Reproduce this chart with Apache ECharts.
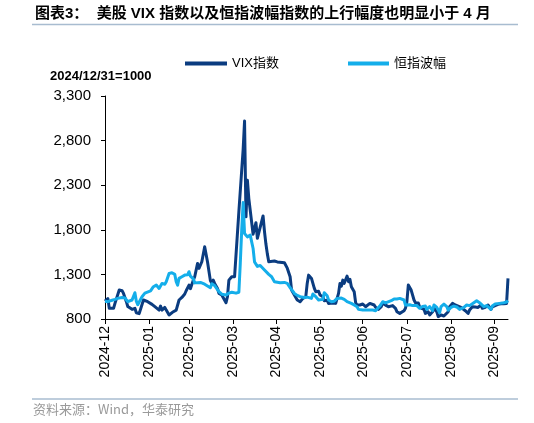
<!DOCTYPE html>
<html><head><meta charset="utf-8">
<script src="https://cdn.jsdelivr.net/npm/echarts@6/dist/echarts.min.js"></script>
<style>html,body{margin:0;padding:0;background:#fff}#c{width:534px;height:423px}</style>
</head><body><div id="c"></div>
<script>
// x values are days after 2024-12-31 (index base = 1000)
const seriesNames = ['VIX指数', '恒指波幅'];
const vixDays = [0,2,3,6,7,10,12,13,15,16,19,20,21,22,24,25,27,28,30,33,35,36,38,39,40,42,43,45,46,48,50,52,54,56,57,59,60,62,63,65,66,68,70,72,74,75,76,77,79,80,82,85,86,87,89,91,92,93,94,97,98,99,100,101,104,105,106,107,111,112,113,114,115,116,119,121,126,128,130,131,133,135,137,139,141,142,143,145,146,147,148,150,151,153,154,156,157,160,162,164,165,166,167,168,170,171,172,173,175,176,177,179,181,183,184,186,187,189,190,192,194,195,197,199,200,202,204,205,207,208,210,211,212,213,215,217,218,220,221,222,224,225,227,228,230,231,233,234,236,238,239,241,242,244,245,246,248,250,251,253,255,256,258,260,262,264,265,267,269,271,272,274,276,278,280,282,283];
const vixValues = [1000,1030,920,920,975,1125,1117,1087,994,940,908,893,920,870,860,856,1013,1024,994,964,938,920,900,945,900,930,900,845,855,882,900,1013,1042,1080,1117,1180,1140,1236,1274,1423,1367,1442,1609,1440,1230,1199,1236,1199,1143,1087,1069,983,1050,1236,1274,1274,1255,1759,2000,2700,3020,1945,2355,2150,1750,1740,1880,1705,1955,1780,1640,1530,1441,1441,1450,1440,1430,1370,1274,1125,1069,1013,994,1031,1050,1199,1292,1255,1199,1143,1106,1110,1069,1050,1005,1010,975,980,975,1087,1199,1169,1236,1200,1281,1218,1244,1162,1106,983,957,957,968,938,960,975,994,957,931,908,938,980,955,938,945,950,920,882,863,863,893,920,994,1180,1124,1013,983,980,931,920,908,863,880,845,880,920,880,826,845,834,850,882,938,975,994,957,945,931,920,893,863,900,938,935,930,957,920,930,957,908,935,950,964,970,972,975,1255];
const hsiDays = [0,2,5,7,9,12,13,14,16,19,21,22,23,26,28,32,34,36,38,40,42,43,45,47,49,50,51,52,54,56,58,59,60,62,63,67,70,72,74,75,77,80,82,85,87,89,92,94,95,96,97,98,99,100,102,103,104,105,107,109,110,112,113,115,117,119,120,123,126,128,129,130,132,133,135,137,140,142,143,145,146,148,150,151,153,154,156,157,159,161,163,164,166,168,170,171,173,175,177,178,181,183,186,188,190,191,193,195,197,198,201,203,205,207,208,210,211,214,216,217,219,221,223,225,226,228,230,231,233,235,236,238,240,241,243,245,247,249,250,252,254,256,257,259,261,263,264,266,268,269,271,272,274,277,280,282,283];
const hsiValues = [1000,994,1010,1020,1031,1042,1050,1035,994,1013,1095,1000,960,1050,1090,1115,1162,1180,1143,1199,1190,1218,1311,1318,1300,1218,1180,1255,1274,1292,1295,1330,1280,1250,1205,1210,1190,1170,1150,1195,1175,1106,1078,1070,1090,1100,1090,1100,1423,1796,2105,1759,1777,1721,1740,1665,1590,1440,1390,1400,1386,1350,1330,1300,1274,1218,1200,1207,1210,1200,1180,1150,1110,1087,1065,1050,1040,1045,1031,1031,1080,1050,1013,1035,1020,1095,1060,1013,994,1000,1031,1042,1035,1020,994,975,975,957,938,908,900,900,902,900,893,900,945,994,980,985,1005,1025,1025,1031,1020,1013,957,960,950,938,950,920,940,945,908,940,893,957,930,871,940,968,940,900,930,945,935,908,915,930,957,950,945,983,1005,983,968,938,950,930,908,945,968,975,983,990,1005];
const tickDates = ['2024-12-31','2025-01-31','2025-02-28','2025-03-31','2025-04-30','2025-05-31','2025-06-30','2025-07-31','2025-08-31','2025-09-30'];
const tickLabels = ['2024-12','2025-01','2025-02','2025-03','2025-04','2025-05','2025-06','2025-07','2025-08','2025-09'];
const yMin = 800, yMax = 3300, yStep = 500;

function dayToTime(d) { return new Date(2024, 11, 31 + d).getTime(); }
function parseDate(s) { const p = s.split('-').map(Number); return new Date(p[0], p[1] - 1, p[2]).getTime(); }
const tickTimes = tickDates.map(parseDate);
const vixData = vixDays.map((d, i) => [dayToTime(d), vixValues[i]]);
const hsiData = hsiDays.map((d, i) => [dayToTime(d), hsiValues[i]]);

const FONT = "'Liberation Sans', Arial, 'Noto Sans CJK SC', sans-serif";
const chart = echarts.init(document.getElementById('c'), null, { renderer: 'canvas' });
chart.setOption({
  animation: false,
  backgroundColor: '#fff',
  textStyle: { fontFamily: FONT },
  grid: { left: 105, right: 26, top: 96, bottom: 104, containLabel: false },
  legend: [
    { data: [seriesNames[0]], left: 180, top: 52, icon: 'rect', itemWidth: 42, itemHeight: 4,
      textStyle: { fontSize: 13, color: '#000', fontFamily: FONT } },
    { data: [seriesNames[1]], left: 343, top: 52, icon: 'rect', itemWidth: 41, itemHeight: 4,
      textStyle: { fontSize: 13, color: '#000', fontFamily: FONT } }
  ],
  xAxis: {
    type: 'value',
    min: dayToTime(0),
    max: dayToTime(vixDays[vixDays.length - 1]),
    axisLine: { lineStyle: { color: '#000', width: 1 } },
    axisTick: { show: true, length: 5, customValues: tickTimes, lineStyle: { color: '#000' } },
    splitLine: { show: false },
    axisLabel: {
      customValues: tickTimes,
      rotate: 90,
      margin: 7,
      fontSize: 14,
      color: '#000',
      fontFamily: FONT,
      formatter: function (v) {
        let best = -1, bd = Infinity;
        tickTimes.forEach((t, i) => { const dd = Math.abs(t - v); if (dd < bd) { bd = dd; best = i; } });
        return bd < 43200000 ? tickLabels[best] : '';
      }
    }
  },
  yAxis: {
    type: 'value',
    min: yMin, max: yMax, interval: yStep,
    axisLine: { show: true, lineStyle: { color: '#000', width: 1 } },
    axisTick: { show: true, length: 4, lineStyle: { color: '#000' } },
    splitLine: { show: false },
    axisLabel: {
      margin: 14, fontSize: 15, color: '#000', fontFamily: FONT,
      formatter: v => v.toLocaleString('en-US')
    }
  },
  series: [
    { name: seriesNames[0], type: 'line', data: vixData, showSymbol: false, symbol: 'none',
      lineStyle: { color: '#0b3c80', width: 3, join: 'round' }, itemStyle: { color: '#0b3c80' } },
    { name: seriesNames[1], type: 'line', data: hsiData, showSymbol: false, symbol: 'none',
      lineStyle: { color: '#14aeea', width: 3, join: 'round' }, itemStyle: { color: '#14aeea' } }
  ],
  graphic: [
    { type: 'text', left: 35, top: 6,
      style: { text: '图表3：  美股 VIX 指数以及恒指波幅指数的上行幅度也明显小于 4 月',
        font: "bold 15px 'Liberation Sans', 'Noto Sans CJK SC', sans-serif", fill: '#000' } },
    { type: 'line', shape: { x1: 32, y1: 24.5, x2: 518, y2: 24.5 }, style: { stroke: '#a8bcd0', lineWidth: 1.5 } },
    { type: 'text', left: 50, top: 70,
      style: { text: '2024/12/31=1000', font: "bold 13px 'Liberation Sans', Arial, sans-serif", fill: '#000' } },
    { type: 'line', shape: { x1: 32, y1: 399, x2: 518, y2: 399 }, style: { stroke: '#a8bcd0', lineWidth: 1.5 } },
    { type: 'text', left: 33, top: 403,
      style: { text: '资料来源：Wind，华泰研究', font: "13px 'Noto Sans CJK SC', 'Liberation Sans', sans-serif", fill: '#9a9a9a' } }
  ]
});
</script></body></html>
